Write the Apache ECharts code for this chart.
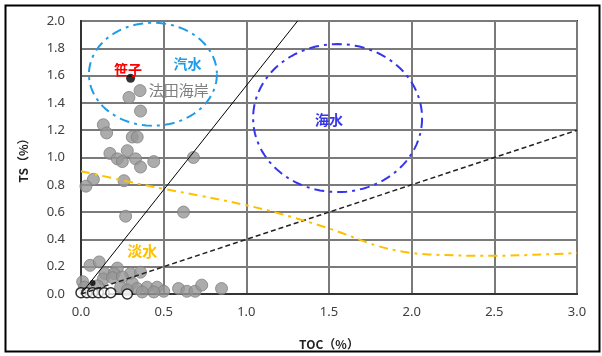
<!DOCTYPE html>
<html>
<head>
<meta charset="utf-8">
<script src="https://cdn.jsdelivr.net/npm/echarts@6/dist/echarts.min.js"></script>
<style>
  html, body { margin: 0; padding: 0; background: #fff; }
  #chart { width: 602px; height: 356px; }
</style>
</head>
<body>
<div id="chart"></div>
<script>
// TOC / TS 散布図
var xTicks = [0, 0.5, 1.0, 1.5, 2.0, 2.5, 3.0];
var yTicks = [0, 0.2, 0.4, 0.6, 0.8, 1.0, 1.2, 1.4, 1.6, 1.8, 2.0];

// 法田海岸 (gray)
var grayPts = [
  [0.357, 1.49], [0.29, 1.44], [0.36, 1.34], [0.135, 1.24], [0.155, 1.18],
  [0.31, 1.15], [0.34, 1.15], [0.175, 1.03], [0.28, 1.05], [0.22, 0.99],
  [0.25, 0.97], [0.33, 0.99], [0.36, 0.93], [0.44, 0.97], [0.68, 1.0],
  [0.075, 0.84], [0.03, 0.79], [0.26, 0.83], [0.27, 0.57], [0.62, 0.60],
  [0.055, 0.21], [0.11, 0.235], [0.22, 0.19], [0.145, 0.15], [0.2, 0.15],
  [0.3, 0.15], [0.36, 0.16], [0.01, 0.09], [0.135, 0.11], [0.19, 0.12],
  [0.25, 0.125], [0.31, 0.08], [0.24, 0.05], [0.34, 0.04], [0.40, 0.05],
  [0.46, 0.05], [0.50, 0.02], [0.44, 0.015], [0.37, 0.015], [0.59, 0.04],
  [0.64, 0.02], [0.69, 0.02], [0.73, 0.065], [0.85, 0.04], [0.28, 0.03],
  [0.02, 0.05], [0.10, 0.06]
];
// open circles near origin
var whitePts = [[0, 0.01], [0.035, 0.01], [0.07, 0.01], [0.105, 0.01], [0.14, 0.01], [0.18, 0.01], [0.28, 0.0]];
// 笹子
var sasagoPts = [[0.30, 1.58]];
var blackPts = [[0.07, 0.08]];

// reference lines
var solidLine = [[0, 0], [1.31, 2.0]];
var dashLine = [[0, 0], [3.0, 1.2]];
// 淡水 boundary
var freshLine = [[0, 0.9], [0.3, 0.82], [0.5, 0.77], [0.72, 0.72], [1.0, 0.65], [1.2, 0.59],
  [1.5, 0.48], [1.8, 0.35], [1.95, 0.31], [2.1, 0.29], [2.5, 0.28], [2.8, 0.29], [3.0, 0.30]];

// ellipses: cx, cy, rx, ry
var ellipses = [
  [0.435, 1.61, 0.387, 0.377, '#1E9CE6'],
  [1.552, 1.289, 0.511, 0.542, '#3535EE']
];

var labels = [
  ['笹子', 0.284, 1.64, '#FF0000', 'center', 'bold', 14],
  ['法田海岸', 0.41, 1.495, '#7F7F7F', 'left', 'normal', 15],
  ['汽水', 0.644, 1.69, '#1E9CE6', 'center', 'bold', 14],
  ['海水', 1.50, 1.28, '#3535EE', 'center', 'bold', 14],
  ['淡水', 0.37, 0.31, '#FFC000', 'center', 'bold', 15]
];

var myChart = echarts.init(document.getElementById('chart'));

var option = {
  animation: false,
  grid: {
    left: 81, right: 25, top: 21, bottom: 62,
    show: true, borderColor: '#333', borderWidth: 2
  },
  graphic: [{
    type: 'rect',
    shape: { x: 5.5, y: 5.5, width: 594, height: 346 },
    style: { fill: 'none', stroke: '#000', lineWidth: 2 },
    z: 100
  }],
  xAxis: {
    type: 'value', min: 0, max: 3.0, interval: 0.5,
    name: 'TOC（%）', nameLocation: 'middle', nameGap: 44,
    nameTextStyle: { fontFamily: 'Noto Sans CJK JP', fontWeight: 'bold', fontSize: 12, color: '#222' },
    axisLine: { show: true, lineStyle: { color: '#333', width: 2 } },
    axisTick: { show: false },
    splitLine: { show: true, lineStyle: { color: '#7a7a7a', width: 2 } },
    axisLabel: {
      margin: 12, fontFamily: 'Noto Sans', fontSize: 13, color: '#404040',
      formatter: function (v) { return v.toFixed(1); }
    }
  },
  yAxis: {
    type: 'value', min: 0, max: 2.0, interval: 0.2,
    name: 'TS（%）', nameLocation: 'middle', nameGap: 52, nameRotate: 90,
    nameTextStyle: { fontFamily: 'Noto Sans CJK JP', fontWeight: 'bold', fontSize: 12, color: '#222' },
    axisLine: { show: true, lineStyle: { color: '#333', width: 2 } },
    axisTick: { show: false },
    splitLine: { show: true, lineStyle: { color: '#7a7a7a', width: 2 } },
    axisLabel: {
      margin: 16, fontFamily: 'Noto Sans', fontSize: 13, color: '#404040',
      formatter: function (v) { return v.toFixed(1); }
    }
  },
  series: [
    {
      type: 'scatter', name: '法田海岸', data: grayPts, symbolSize: 12, clip: false, z: 3,
      itemStyle: { color: '#979797', borderColor: '#808080', borderWidth: 1 }
    },
    {
      type: 'scatter', data: whitePts, symbolSize: 10, clip: false, z: 4,
      itemStyle: { color: '#fff', borderColor: '#000', borderWidth: 1.5 }
    },
    {
      type: 'scatter', name: '笹子', data: sasagoPts, symbolSize: 9, z: 5,
      itemStyle: { color: '#000' }
    },
    {
      type: 'scatter', data: blackPts, symbolSize: 6, z: 5,
      itemStyle: { color: '#000' }
    },
    {
      type: 'line', data: solidLine, symbol: 'none', z: 6,
      lineStyle: { color: '#000', width: 1 }
    },
    {
      type: 'line', data: dashLine, symbol: 'none', z: 6,
      lineStyle: { color: '#222', width: 1.5, type: [5, 3] }
    },
    {
      type: 'line', data: freshLine, symbol: 'none', smooth: 0.4, z: 6,
      lineStyle: { color: '#FFC000', width: 2, type: [9, 5, 3, 5] }
    },
    {
      type: 'custom', data: ellipses, z: 6,
      renderItem: function (params, api) {
        var c = api.coord([api.value(0), api.value(1)]);
        var s = api.size([api.value(2), api.value(3)]);
        var pts = [];
        for (var i = 0; i <= 120; i++) {
          var t = i / 120 * Math.PI * 2;
          pts.push([c[0] + s[0] * Math.cos(t), c[1] + s[1] * Math.sin(t)]);
        }
        return {
          type: 'polyline',
          shape: { points: pts },
          style: { fill: 'none', stroke: ellipses[params.dataIndex][4], lineWidth: 2, lineDash: [10, 5, 3, 5] }
        };
      }
    },
    {
      type: 'custom', data: labels, z: 7,
      renderItem: function (params, api) {
        var l = labels[params.dataIndex];
        var p = api.coord([l[1], l[2]]);
        return {
          type: 'text', x: p[0], y: p[1],
          style: {
            text: l[0], fill: l[3], align: l[4], verticalAlign: 'middle',
            font: l[5] + ' ' + l[6] + 'px "Noto Sans CJK JP"'
          }
        };
      }
    }
  ]
};

myChart.setOption(option);
</script>
</body>
</html>
